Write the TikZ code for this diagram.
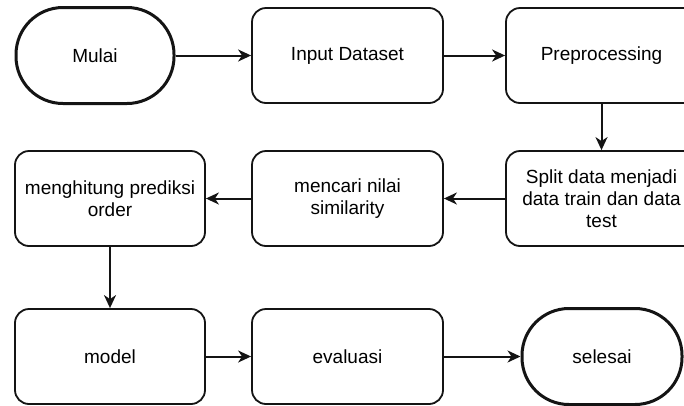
\documentclass[tikz,border=0pt]{standalone}
\usepackage{fontspec}
\setmainfont{Liberation Sans}
\usepackage{xcolor}
\usepackage{tikz}
\usetikzlibrary{arrows.meta, positioning}
\definecolor{flowblack}{RGB}{20, 20, 20}

\tikzset{
  procbox/.style={rectangle, rounded corners=14pt, draw=flowblack, line width=1.8pt,
    fill=white, minimum width=190pt, minimum height=95pt, align=center,
    inner sep=0pt, font=\fontsize{19}{22}\selectfont},
  termbox/.style={rectangle, rounded corners=47pt, draw=flowblack, line width=3pt,
    fill=white, minimum width=158pt, minimum height=96pt, align=center,
    inner sep=0pt, font=\fontsize{19}{22}\selectfont},
  flow/.style={-{Stealth[length=13pt, width=12pt, inset=4pt]}, line width=2pt, draw=flowblack}
}

\begin{document}
\begin{tikzpicture}[x=1pt, y=-1pt]
  \clip (0,0) rectangle (684,405);
  % row 1
  \node[termbox] (mulai) at (95,55.5) {Mulai};
  \node[procbox, minimum width=191pt] (input) at (347.5,55.5) {Input Dataset};
  \node[procbox, minimum width=191pt] (prep) at (601.5,55.5) {Preprocessing};
  % row 2
  \node[procbox, minimum width=191pt] (split) at (601.5,198.5) {Split data menjadi\\data train dan data\\test};
  \node[procbox, minimum width=191pt] (mencari) at (347.5,198.5) {mencari nilai\\similarity};
  \node[procbox] (hitung) at (110,198.5) {menghitung prediksi\\order};
  % row 3
  \node[procbox] (model) at (110,356.5) {model};
  \node[procbox, minimum width=191pt] (evaluasi) at (347.5,356.5) {evaluasi};
  \node[termbox, minimum width=160pt] (selesai) at (602,356.5) {selesai};

  \draw[flow] (mulai) -- (input);
  \draw[flow] (input) -- (prep);
  \draw[flow] (prep) -- (split);
  \draw[flow] (split) -- (mencari);
  \draw[flow] (mencari) -- (hitung);
  \draw[flow] (hitung) -- (model);
  \draw[flow] (model) -- (evaluasi);
  \draw[flow] (evaluasi) -- (selesai);
\end{tikzpicture}
\end{document}
